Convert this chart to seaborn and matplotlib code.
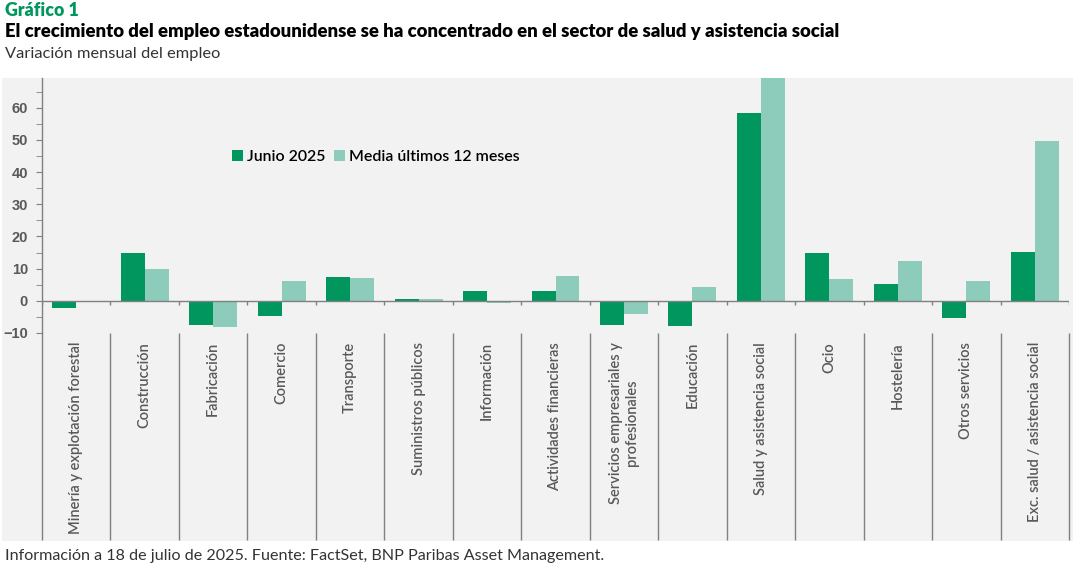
import numpy as np
import pandas as pd
import seaborn as sns
import matplotlib.pyplot as plt
from matplotlib.patches import Rectangle

# Datos (miles de empleos, variación mensual)
sectores = [
    'Minería y explotación forestal', 'Construcción', 'Fabricación', 'Comercio',
    'Transporte', 'Suministros públicos', 'Información', 'Actividades financieras',
    'Servicios empresariales y\nprofesionales', 'Educación', 'Salud y asistencia social',
    'Ocio', 'Hostelería', 'Otros servicios', 'Exc. salud / asistencia social'
]
junio_2025 = [-2.1, 14.9, -7.4, -4.7, 7.4, 0.6, 3.1, 3.1, -7.4, -7.8, 58.3, 14.9, 5.3, -5.2, 15.2]
media_12m = [-0.5, 9.9, -8.1, 6.2, 7.1, 0.6, -0.8, 7.8, -4.0, 4.3, 71.0, 6.8, 12.4, 6.2, 49.6]
series = ['Junio 2025', 'Media últimos 12 meses']
colores = ['#00965e', '#8dcbba']
y_ticks = [-10, 0, 10, 20, 30, 40, 50, 60]

df = pd.DataFrame({
    'sector': sectores * 2,
    'valor': junio_2025 + media_12m,
    'serie': [series[0]] * len(sectores) + [series[1]] * len(sectores),
})

W, H = 1075, 568
fig = plt.figure(figsize=(W / 100, H / 100), dpi=100)
plt.rcParams['font.family'] = ['Lato', 'DejaVu Sans']

# fondo gris del bloque del gráfico
fig.patches.append(Rectangle((2 / W, 1 - 541 / H), 1071 / W, 463 / H,
                             transform=fig.transFigure, facecolor='#f2f2f2',
                             edgecolor='none', zorder=-10))

ax = fig.add_axes([42 / W, 1 - 333 / H, 1027 / W, 255 / H])
ax.set_facecolor('none')
ax.set_zorder(2)

sns.barplot(data=df, x='sector', y='valor', hue='serie', order=sectores,
            hue_order=series, palette=colores, width=0.7, saturation=1,
            ax=ax, zorder=2)

ax.set_xlim(-0.5, len(sectores) - 0.5)
ax.set_ylim(-10, 69.2)
ax.set_xlabel('')
ax.set_ylabel('')
ax.set_xticks([])
ax.set_yticks(y_ticks)
ax.set_yticks(np.arange(-10, 69, 5), minor=True)
ax.tick_params(axis='y', which='major', length=4, color='#808080', pad=6,
               labelsize=10.5, labelcolor='#595959')
ax.tick_params(axis='y', which='minor', length=4, color='#808080')
for lbl in ax.get_yticklabels():
    lbl.set_fontfamily('Liberation Sans')
    lbl.set_fontweight('bold')

for s in ['top', 'right', 'bottom']:
    ax.spines[s].set_visible(False)
ax.spines['left'].set_color('#808080')
ax.spines['left'].set_linewidth(1)

# eje en cero con marcas entre categorías
bordes = np.arange(len(sectores) + 1) - 0.5
ax.axhline(0, color='#808080', lw=1, zorder=3)
ax.vlines(bordes, -1.4, 0, color='#808080', lw=1, zorder=3)

# separadores de la zona de etiquetas
ax.vlines(bordes, -0.81, 0, transform=ax.get_xaxis_transform(),
          color='#808080', lw=1, clip_on=False)

for i, s in enumerate(sectores):
    ax.text(i, -0.035, s, transform=ax.get_xaxis_transform(), rotation=90,
            ha='center', va='top', multialignment='center', fontsize=10.5,
            color='#595959', fontweight='semibold')

# leyenda
handles, labels = ax.get_legend_handles_labels()
ax.get_legend().remove()
fig.legend(handles, labels, loc='center left',
           bbox_to_anchor=(218 / W, 1 - 157 / H), ncol=2, frameon=False,
           handlelength=0.7, handleheight=0.7, handletextpad=0.25,
           columnspacing=0.5,
           prop={'weight': 'semibold', 'size': 11.4})

# textos
fig.text(5 / W, 1 - 11 / H, 'Gráfico 1', color='#00965e', fontsize=12.8,
         fontweight='heavy', va='center')
fig.text(5 / W, 1 - 32 / H,
         'El crecimiento del empleo estadounidense se ha concentrado en el sector de salud y asistencia social',
         color='black', fontsize=13.3, fontweight='heavy', va='center')
fig.text(5 / W, 1 - 54 / H, 'Variación mensual del empleo', color='#333333',
         fontsize=11.8, va='center')
fig.text(5 / W, 1 - 556 / H,
         'Información a 18 de julio de 2025. Fuente: FactSet, BNP Paribas Asset Management.',
         color='#333333', fontsize=11.6, va='center')

fig.savefig('out.png', dpi=100)
